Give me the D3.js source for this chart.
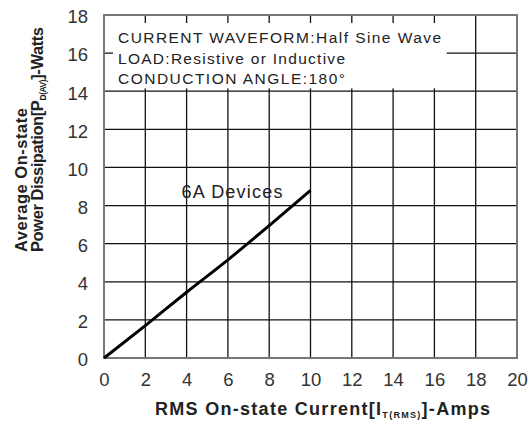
<!DOCTYPE html>
<html>
<head>
<meta charset="utf-8">
<script src="https://cdn.jsdelivr.net/npm/d3@7"></script>
<style>
  body { margin: 0; background: #fff; }
  text { font-family: Arial, "Liberation Sans", sans-serif; }
</style>
</head>
<body>
<div id="chart"></div>
<script>
// RMS current (A) vs average on-state power (W), 6A devices
var currentA = [0, 2, 4, 6, 8, 10];
var powerW = [0, 1.7, 3.45, 5.15, 6.95, 8.8];

var xTicks = [0, 2, 4, 6, 8, 10, 12, 14, 16, 18, 20];
var yTicks = [0, 2, 4, 6, 8, 10, 12, 14, 16, 18];

var noteLines = ["CURRENT WAVEFORM:Half Sine Wave", "LOAD:Resistive or Inductive", "CONDUCTION ANGLE:180\u00b0"];
var curveLabel = "6A Devices";

var width = 530, height = 421;
var margin = {top: 15, right: 13, bottom: 63, left: 104};

var svg = d3.select("#chart").append("svg")
  .attr("width", width)
  .attr("height", height);

var x = d3.scaleLinear().domain([0, 20]).range([margin.left, width - margin.right]);
var y = d3.scaleLinear().domain([0, 18]).range([height - margin.bottom, margin.top]);

// grid
svg.append("g").selectAll("line.v")
  .data(xTicks.slice(1, -1))
  .enter().append("line")
  .attr("x1", function(d){ return x(d); })
  .attr("x2", function(d){ return x(d); })
  .attr("y1", y(0)).attr("y2", y(18))
  .attr("stroke", "#111").attr("stroke-width", 1.3);

svg.append("g").selectAll("line.h")
  .data(yTicks.slice(1, -1))
  .enter().append("line")
  .attr("x1", x(0)).attr("x2", x(20))
  .attr("y1", function(d){ return y(d); })
  .attr("y2", function(d){ return y(d); })
  .attr("stroke", "#111").attr("stroke-width", 1.3);

// note box hides part of the grid
svg.append("rect")
  .attr("x", x(0) + 9).attr("y", y(18) + 8)
  .attr("width", x(16.5) - x(0) - 7)
  .attr("height", y(14.15) - y(18) - 8)
  .attr("fill", "#fff");

// frame
svg.append("rect")
  .attr("x", x(0)).attr("y", y(18))
  .attr("width", x(20) - x(0)).attr("height", y(0) - y(18))
  .attr("fill", "none").attr("stroke", "#777").attr("stroke-width", 2);

// axes labels
var xAxis = d3.axisBottom(x).tickValues(xTicks).tickSize(0).tickPadding(15);
svg.append("g")
  .attr("transform", "translate(0," + y(0) + ")")
  .call(xAxis)
  .call(function(g){ g.select(".domain").remove(); })
  .selectAll("text")
  .attr("font-size", 18.5).attr("fill", "#333")
  .style("font-family", "Arial, 'Liberation Sans', sans-serif");

var yAxis = d3.axisLeft(y).tickValues(yTicks).tickSize(0).tickPadding(16);
svg.append("g")
  .attr("transform", "translate(" + x(0) + ",0)")
  .call(yAxis)
  .call(function(g){ g.select(".domain").remove(); })
  .selectAll("text")
  .attr("font-size", 18.5).attr("fill", "#333").attr("dy", "0.42em")
  .style("font-family", "Arial, 'Liberation Sans', sans-serif");

// curve
var line = d3.line()
  .x(function(d, i){ return x(currentA[i]); })
  .y(function(d){ return y(d); })
  .curve(d3.curveMonotoneX);

svg.append("path")
  .datum(powerW)
  .attr("d", line)
  .attr("fill", "none")
  .attr("stroke", "#000")
  .attr("stroke-width", 3);

svg.append("text")
  .attr("x", x(3.75)).attr("y", y(8.4))
  .attr("font-size", 18).attr("fill", "#222")
  .attr("textLength", 101).attr("lengthAdjust", "spacing")
  .text(curveLabel);

// note text
var noteWidths = [323, 227, 227];
svg.append("g").selectAll("text")
  .data(noteLines)
  .enter().append("text")
  .attr("x", x(0) + 14)
  .attr("y", function(d, i){ return 43 + i * 20.5; })
  .attr("font-size", 15.5).attr("fill", "#222")
  .attr("textLength", function(d, i){ return noteWidths[i]; })
  .attr("lengthAdjust", "spacing")
  .text(function(d){ return d; });

// x title
var xt = svg.append("text")
  .attr("x", 155).attr("y", 415)
  .attr("font-size", 18).attr("font-weight", "bold").attr("fill", "#222")
  .attr("textLength", 335).attr("lengthAdjust", "spacing");
xt.append("tspan").text("RMS On-state Current[I");
xt.append("tspan").attr("font-size", 9).attr("dy", 3).text("T(RMS)");
xt.append("tspan").attr("dy", -3).text("]-Amps");

// y title, two lines
svg.append("text")
  .attr("transform", "translate(27,252) rotate(-90)")
  .attr("font-size", 16.5).attr("font-weight", "bold").attr("fill", "#222")
  .attr("textLength", 144).attr("lengthAdjust", "spacing")
  .text("Average On-state");

var yt2 = svg.append("text")
  .attr("transform", "translate(43,252) rotate(-90)")
  .attr("font-size", 16.5).attr("font-weight", "bold").attr("fill", "#222")
  .attr("textLength", 225).attr("lengthAdjust", "spacing");
yt2.append("tspan").text("Power Dissipation[P");
yt2.append("tspan").attr("font-size", 8.5).attr("dy", 3).text("D(AV)");
yt2.append("tspan").attr("dy", -3).text("]-Watts");
</script>
</body>
</html>
